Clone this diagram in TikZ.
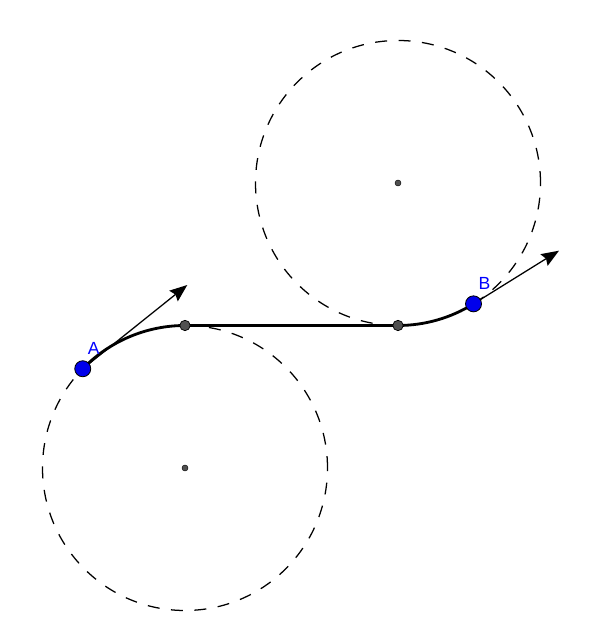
\documentclass[tikz,border=0pt]{standalone}
\usepackage{fontspec}
\setmainfont{Liberation Sans}
\usetikzlibrary{arrows.meta,positioning}
\definecolor{pointblue}{RGB}{0, 0, 235}
\definecolor{pointgray}{RGB}{80, 80, 80}

\begin{document}
\begin{tikzpicture}[x=0.025cm, y=0.025cm,
    dashcircle/.style={draw=black, line width=0.9pt, dash pattern=on 8.5pt off 8.2pt},
    pathline/.style={draw=black, line width=2pt},
    tangentarrow/.style={draw=black, line width=0.9pt, -{Stealth[length=4.4mm, width=3.4mm, inset=0.6mm]}},
    bluepoint/.style={circle, fill=pointblue, draw=black, line width=0.6pt, inner sep=0pt, minimum size=0.4cm},
    graypoint/.style={circle, fill=pointgray, draw=black, line width=0.5pt, inner sep=0pt, minimum size=0.26cm},
    centerdot/.style={circle, fill=pointgray, draw=black, line width=0.3pt, inner sep=0pt, minimum size=0.15cm},
    ptlabel/.style={text=blue, font=\fontsize{12.5}{14}\selectfont}]
    \useasboundingbox (0,0) rectangle (600,642);
    % the two turning circles
    \coordinate (C1) at (185,174);
    \coordinate (C2) at (398,459);
    \draw[dashcircle] (C1) circle[radius=142.5];
    \draw[dashcircle] (C2) circle[radius=142.5];

    % start, end and tangent points
    \coordinate (A) at ([shift={(135.85:142.5)}]C1);
    \coordinate (B) at ([shift={(-58:142.5)}]C2);
    \coordinate (T1) at ([shift={(90:142.5)}]C1);
    \coordinate (T2) at ([shift={(-90:142.5)}]C2);
    \coordinate (Adir) at (187.3,357);
    \coordinate (Bdir) at (559,391.3);

    % headings
    \draw[tangentarrow] (A) -- (Adir);
    \draw[tangentarrow] (B) -- (Bdir);

    % path: arc, straight, arc
    \draw[pathline] (A) arc[start angle=135.85, end angle=90, radius=142.5]
        -- (T2) arc[start angle=-90, end angle=-58, radius=142.5];

    \node[centerdot] (c1) at (C1) {};
    \node[centerdot] (c2) at (C2) {};
    \node[graypoint] (t1) at (T1) {};
    \node[graypoint] (t2) at (T2) {};
    \node[bluepoint] (a) at (A) {};
    \node[bluepoint] (b) at (B) {};
    \node[ptlabel] (la) at ([shift={(11,20)}]A) {A};
    \node[ptlabel] (lb) at ([shift={(11,20)}]B) {B};
\end{tikzpicture}
\end{document}
